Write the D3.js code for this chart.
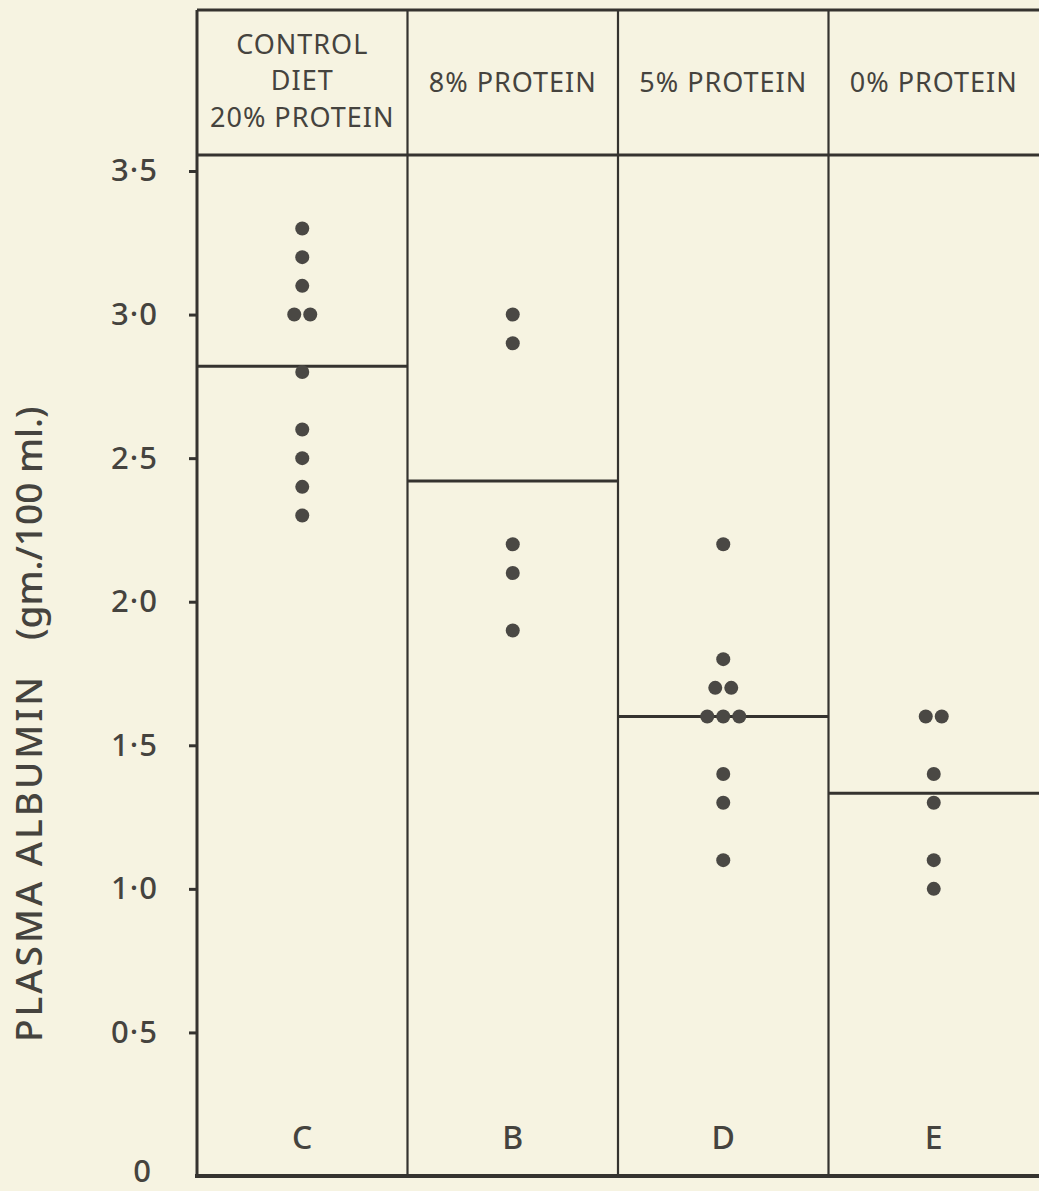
<!DOCTYPE html>
<html>
<head>
<meta charset="utf-8">
<script src="https://cdn.jsdelivr.net/npm/d3@7"></script>
<style>
html,body{margin:0;padding:0;background:#f6f3e1;}
svg{display:block;}
text{font-family:"Noto Sans","DejaVu Sans",sans-serif;fill:#45433e;}
</style>
</head>
<body>
<svg id="chart" width="1039" height="1191"></svg>
<script>
// ---- data ----
const groups = ["C", "B", "D", "E"];
const headers = [["CONTROL", "DIET", "20% PROTEIN"], ["8% PROTEIN"], ["5% PROTEIN"], ["0% PROTEIN"]];
const valuesC = [3.3, 3.2, 3.1, 3.0, 3.0, 2.8, 2.6, 2.5, 2.4, 2.3];
const valuesB = [3.0, 2.9, 2.2, 2.1, 1.9];
const valuesD = [2.2, 1.8, 1.7, 1.7, 1.6, 1.6, 1.6, 1.4, 1.3, 1.1];
const valuesE = [1.6, 1.6, 1.4, 1.3, 1.1, 1.0];
const yTicks = [0, 0.5, 1.0, 1.5, 2.0, 2.5, 3.0, 3.5];
const yTitleMain = "PLASMA ALBUMIN";
const yTitleUnit = "(gm./100 ml.)";

const series = [valuesC, valuesB, valuesD, valuesE];
const ink = "#35332f";

const svg = d3.select("#chart");
const mLeft = 197, mRight = 1039, mTop = 10, headerBottom = 155, mBottom = 1176;

const x = d3.scaleBand().domain(groups).range([mLeft, mRight]).padding(0);
const y = d3.scaleLinear().domain([0, 3.5]).range([mBottom, 171]);

// background
svg.append("rect").attr("width", 1039).attr("height", 1191).attr("fill", "#f6f3e1");

// y axis ticks & labels
const yAxis = d3.axisLeft(y)
  .tickValues(yTicks)
  .tickSize(8)
  .tickPadding(31)
  .tickFormat(d => d === 0 ? "0" : d3.format(".1f")(d).replace(".", "·"));
const ga = svg.append("g").attr("transform", `translate(${mLeft},0)`).call(yAxis);
ga.select(".domain").remove();
ga.selectAll(".tick line").attr("stroke", ink).attr("stroke-width", 3);
ga.selectAll(".tick text")
  .style("font-size", "31px").style("font-weight", "500").style("letter-spacing", "1px")
  .attr("fill", "#45433e");
ga.selectAll(".tick").filter(d => d === 0).select("line").remove();
ga.selectAll(".tick").filter(d => d === 0).select("text").attr("x", -45).attr("y", -4);

// frame lines
const lines = svg.append("g").attr("stroke", ink).attr("stroke-width", 3).attr("fill", "none");
lines.append("line").attr("x1", mLeft).attr("x2", mLeft).attr("y1", mTop).attr("y2", mBottom);
lines.append("line").attr("x1", mLeft).attr("x2", mRight).attr("y1", mTop).attr("y2", mTop);
lines.append("line").attr("x1", mLeft).attr("x2", mRight).attr("y1", headerBottom).attr("y2", headerBottom);
lines.append("line").attr("x1", mLeft - 2).attr("x2", mRight).attr("y1", mBottom).attr("y2", mBottom).attr("stroke-width", 4);
groups.slice(1).forEach(g => {
  lines.append("line").attr("x1", x(g)).attr("x2", x(g)).attr("y1", mTop).attr("y2", mBottom).attr("stroke-width", 2.2);
});

// headers
groups.forEach((g, i) => {
  const cx = x(g) + x.bandwidth() / 2;
  const hl = headers[i];
  const t = svg.append("text").attr("text-anchor", "middle")
    .style("font-size", "27px").style("letter-spacing", "1px");
  const lh = 36.5;
  const y0 = hl.length > 1 ? 44 : 82;
  hl.forEach((line, j) => {
    t.append("tspan").attr("x", cx).attr("y", y0 + j * lh).attr("dy", "0.36em").text(line);
  });
  // group letter
  svg.append("text").attr("x", cx).attr("y", 1137).attr("dy", "0.36em")
    .attr("text-anchor", "middle").style("font-size", "32px").style("font-weight", "500").text(g);
});

// mean lines
groups.forEach((g, i) => {
  const m = d3.mean(series[i]);
  svg.append("line").attr("x1", x(g)).attr("x2", x(g) + x.bandwidth())
    .attr("y1", y(m)).attr("y2", y(m)).attr("stroke", ink).attr("stroke-width", 3);
});

// dots: duplicates spread horizontally
const spacing = 16;
groups.forEach((g, i) => {
  const cx = x(g) + x.bandwidth() / 2;
  const counts = d3.rollup(series[i], v => v.length, d => d);
  const seen = new Map();
  series[i].forEach(v => {
    const n = counts.get(v);
    const k = seen.get(v) || 0;
    seen.set(v, k + 1);
    const dx = (k - (n - 1) / 2) * spacing;
    svg.append("circle").attr("cx", cx + dx).attr("cy", y(v)).attr("r", 7).attr("fill", "#4a4844");
  });
});

// y title
const tt = svg.append("text")
  .attr("transform", `translate(42,1042) rotate(-90)`)
  .attr("text-anchor", "start")
  .style("font-size", "37px").style("font-weight", "500");
tt.append("tspan").style("letter-spacing", "3px").text(yTitleMain);
tt.append("tspan").attr("dx", 34).style("letter-spacing", "0px").text(yTitleUnit);
</script>
</body>
</html>
